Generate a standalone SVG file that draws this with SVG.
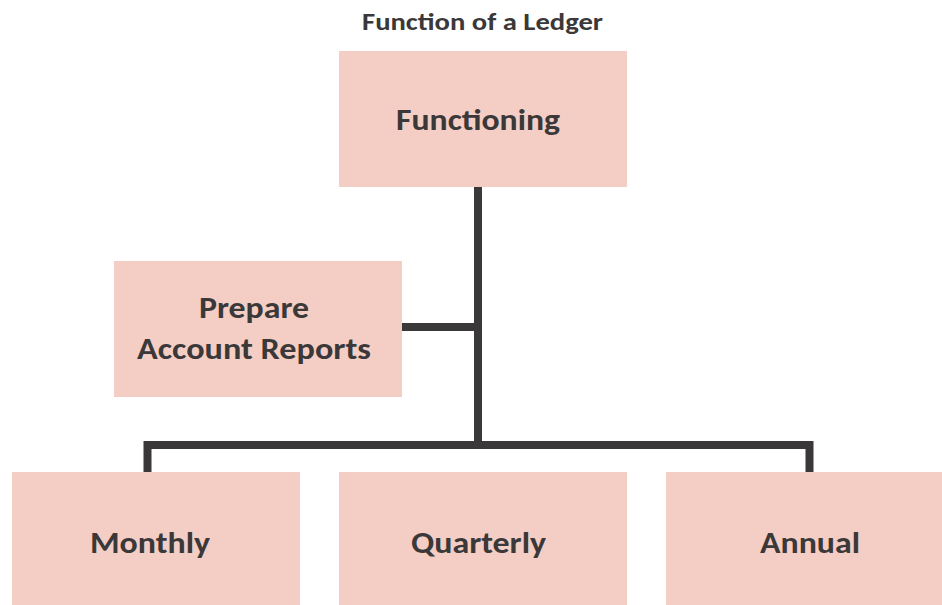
<svg xmlns="http://www.w3.org/2000/svg" width="942" height="605" viewBox="0 0 942 605">
<style>
.box{fill:#f4cdc4;}
.lbl{font-family:Carlito,Lato,"Open Sans",sans-serif;font-weight:bold;font-size:30px;fill:#3a3838;text-anchor:middle;}
.title{font-family:Carlito,Lato,"Open Sans",sans-serif;font-weight:bold;font-size:24px;fill:#3a3838;text-anchor:middle;}
.conn{fill:none;stroke:#3a3838;stroke-width:8;stroke-linejoin:miter;stroke-linecap:butt;}
</style>
<rect width="942" height="605" fill="#ffffff"/>
<text class="title" x="482.5" y="30" textLength="241" lengthAdjust="spacingAndGlyphs">Function of a Ledger</text>
<g id="connectors">
<path class="conn" d="M478 187 V445"/>
<path class="conn" d="M402 327 H478"/>
<path class="conn" d="M147.5 472 V445 H809.5 V472"/>
</g>
<g id="functioning">
<rect class="box" x="339" y="51" width="288" height="136"/>
<text class="lbl" x="478" y="129.5" textLength="164" lengthAdjust="spacingAndGlyphs">Functioning</text>
</g>
<g id="prepare">
<rect class="box" x="114" y="261" width="288" height="136"/>
<text class="lbl" x="254" y="318" textLength="110" lengthAdjust="spacingAndGlyphs">Prepare</text>
<text class="lbl" x="254" y="359" textLength="234" lengthAdjust="spacingAndGlyphs">Account Reports</text>
</g>
<g id="monthly">
<rect class="box" x="12" y="472" width="288" height="136"/>
<text class="lbl" x="150" y="552.5" textLength="120" lengthAdjust="spacingAndGlyphs">Monthly</text>
</g>
<g id="quarterly">
<rect class="box" x="339" y="472" width="288" height="136"/>
<text class="lbl" x="478.5" y="552.5" textLength="135" lengthAdjust="spacingAndGlyphs">Quarterly</text>
</g>
<g id="annual">
<rect class="box" x="666" y="472" width="288" height="136"/>
<text class="lbl" x="810" y="552.5" textLength="100" lengthAdjust="spacingAndGlyphs">Annual</text>
</g>
</svg>
